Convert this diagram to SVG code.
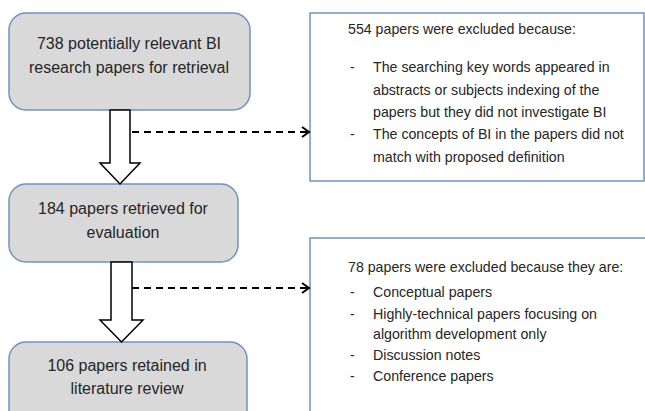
<svg xmlns="http://www.w3.org/2000/svg" width="645" height="411" viewBox="0 0 645 411">
<style>
.node{fill:#d9d9d9;stroke:#6f93c2;stroke-width:1.5}
.note{fill:#ffffff;stroke:#6f93c2;stroke-width:1.5}
.t{font-family:"Liberation Sans",Arial,sans-serif;fill:#262626}
.big{font-size:16px;text-anchor:middle}
.sm{font-size:14.2px}
.hollow{fill:#ffffff;stroke:#000000;stroke-width:1.5;stroke-linejoin:miter}
.dash{fill:none;stroke:#000000;stroke-width:2;stroke-dasharray:7 5}
.head{fill:none;stroke:#000000;stroke-width:2}
</style>
<rect width="645" height="411" fill="#ffffff"/>
<g id="n1">
<rect class="node" x="9" y="13" width="241" height="97" rx="17"/>
<text class="t big" x="129" y="49">738 potentially relevant BI</text>
<text class="t big" x="129" y="73">research papers for retrieval</text>
</g>
<g id="n2">
<rect class="node" x="9" y="184" width="229" height="78" rx="17"/>
<text class="t big" x="123" y="214">184 papers retrieved for</text>
<text class="t big" x="123" y="238">evaluation</text>
</g>
<g id="n3">
<rect class="node" x="9" y="342" width="238" height="90" rx="17"/>
<text class="t big" x="127" y="371">106 papers retained in</text>
<text class="t big" x="127" y="394">literature review</text>
</g>
<g id="e1">
<rect class="note" x="310" y="13" width="334" height="168"/>
<text class="t sm" x="348" y="34">554 papers were excluded because:</text>
<text class="t sm" x="350" y="72">-</text>
<text class="t sm" x="373" y="72">The searching key words appeared in</text>
<text class="t sm" x="373" y="95">abstracts or subjects indexing of the</text>
<text class="t sm" x="373" y="117">papers but they did not investigate BI</text>
<text class="t sm" x="350" y="139">-</text>
<text class="t sm" x="373" y="139">The concepts of BI in the papers did not</text>
<text class="t sm" x="373" y="162">match with proposed definition</text>
</g>
<g id="e2">
<rect class="note" x="310" y="238" width="340" height="190"/>
<text class="t sm" x="348" y="272">78 papers were excluded because they are:</text>
<text class="t sm" x="350" y="297">-</text>
<text class="t sm" x="373" y="297">Conceptual papers</text>
<text class="t sm" x="350" y="319">-</text>
<text class="t sm" x="373" y="319">Highly-technical papers focusing on</text>
<text class="t sm" x="373" y="339">algorithm development only</text>
<text class="t sm" x="350" y="360">-</text>
<text class="t sm" x="373" y="360">Discussion notes</text>
<text class="t sm" x="350" y="381">-</text>
<text class="t sm" x="373" y="381">Conference papers</text>
</g>
<g id="connectors">
<polygon class="hollow" points="110,110 130,110 130,163 140,163 120,184 100,163 110,163"/>
<polygon class="hollow" points="111,262 132,262 132,320 143,320 121.5,342 100,320 111,320"/>
<line class="dash" x1="132" y1="132" x2="308" y2="132"/>
<polyline class="head" points="302,127 309,132 302,137"/>
<line class="dash" x1="132" y1="288" x2="308" y2="288"/>
<polyline class="head" points="302,283 309,288 302,293"/>
</g>
</svg>
